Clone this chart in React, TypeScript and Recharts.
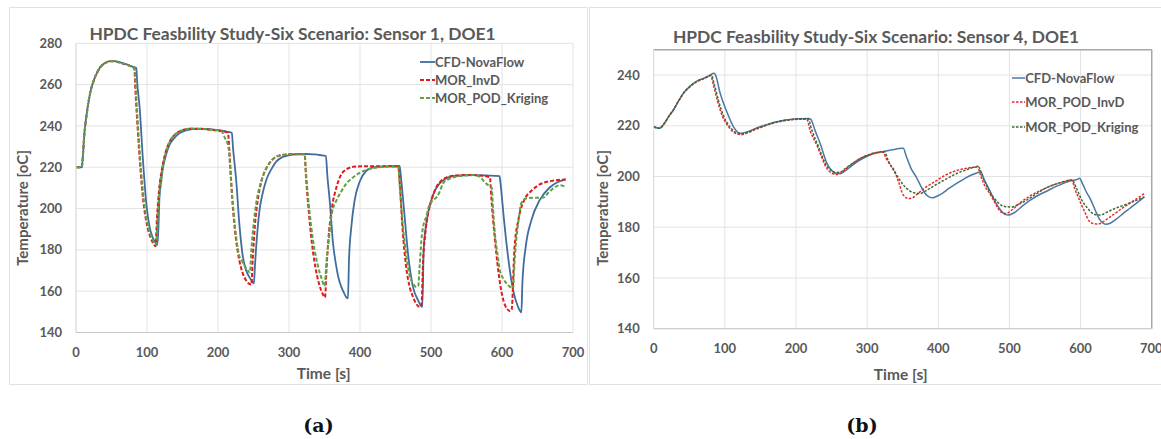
import { LineChart, Line, XAxis, YAxis, CartesianGrid, ReferenceLine } from 'recharts';

// time [s], temperature [oC]
const timeTicks = [0, 100, 200, 300, 400, 500, 600, 700];
const tempTicksA = [140, 160, 180, 200, 220, 240, 260, 280];
const tempTicksB = [140, 160, 180, 200, 220, 240];

// (a) Sensor 1
const cfdS1: [number, number][] = [
  [0, 220], [8, 220], [12, 237], [16, 248], [20, 256], [25, 262], [30, 266], [35, 268.8], [40, 270.3], [45, 271.2],
  [50, 271.5], [55, 271.4], [60, 271], [65, 270.5], [70, 270], [75, 269.3], [80, 268.6], [85, 268],
  [86, 262], [89.6, 249], [94.3, 223.5], [99, 202.5], [103.7, 191], [108, 186], [111, 184], [114.5, 182.4],
  [116, 190], [117.5, 205], [120, 213], [122, 218.6], [126, 225], [131.5, 230.7], [138, 234], [145.6, 236.4],
  [155, 237.8], [164, 238.5], [178, 238.6], [190, 238.4], [202, 238], [212, 237.3], [219.5, 236.7],
  [221, 230], [225.6, 213.8], [230, 192.8], [235, 176.7], [239.7, 170], [243, 167.5], [246.8, 165.4], [250.5, 163.8],
  [252, 172], [253.8, 181.5], [256, 191], [258.5, 199.3], [263, 207.5], [268, 213.8], [275, 219], [282, 222.7],
  [290, 224.8], [300.8, 225.9], [312, 226.3], [324, 226.4], [335, 226.2], [345, 225.8], [352, 225.4],
  [354, 216], [357.3, 204.1], [362, 183.2], [366.7, 171.8], [370, 166], [373.7, 162.1], [377, 159.5], [380.8, 157], [383, 156.5],
  [384.5, 175], [387.8, 191.2], [392.5, 204.1], [399.5, 213], [408.9, 218.3], [415, 219.5], [423, 220.2], [440, 220.5], [455.8, 220.6],
  [458, 214], [462.9, 196], [467.6, 178.3], [474.6, 162.1], [481.7, 155.7], [487.8, 152.4],
  [489.7, 180], [493.4, 192.8], [500.5, 204.1], [506, 209], [512.2, 212.2], [520, 214.3], [531, 215.7], [545, 216.1],
  [559, 216.2], [578, 216], [596.6, 215.7],
  [598, 212], [602.4, 196], [608.5, 176.7], [615.6, 160.6], [622.6, 152.4], [627.3, 149.7],
  [628.7, 163.8], [633.4, 181.5], [641.4, 194.4], [653.1, 204.1], [667.2, 210.2], [678, 212.7], [689.7, 214.1],
];
const invdS1: [number, number][] = [
  [0, 220], [8, 220], [12, 237], [16, 248], [20, 256], [25, 262], [30, 266], [35, 268.8], [40, 270.3], [45, 271],
  [50, 271.3], [55, 271.2], [60, 270.8], [65, 270.3], [70, 269.8], [75, 269.2], [80, 268.5], [82, 268],
  [84, 255], [87, 238], [91, 218], [95, 203], [100, 192], [105, 186], [109, 183], [112, 181.8],
  [114, 195], [117, 209], [121, 219], [126, 227], [132, 232.5], [140, 236], [150, 238], [160, 238.6], [175, 238.6],
  [190, 238.1], [205, 237.4], [214, 236.8],
  [216, 228], [220, 205], [225, 186], [230, 175], [235, 168.5], [240, 165], [244, 163.5], [247, 163.2],
  [249, 176], [252, 192], [256, 204], [261, 213], [268, 219.5], [276, 223.5], [285, 225.5], [300, 226.3], [315, 226.4], [322, 226.3],
  [324, 215], [328, 198], [332, 184], [337, 172], [342, 164], [347, 159], [350.7, 157],
  [353, 172], [355.4, 184.7], [360, 199.3], [367, 210.5], [376.4, 217.8], [390.5, 220.2], [410, 220.5], [430, 220.5], [454, 220.4],
  [456, 212], [460, 190], [465, 171.8], [470, 162], [474.6, 157.3], [479, 154], [484, 152.4], [486.5, 153],
  [488.9, 175], [492, 188], [496, 197.7], [501, 204.5], [507.7, 210.5], [514, 213.3], [521.8, 215.1], [535, 216],
  [550, 216.3], [570, 216], [583, 215.1],
  [585, 205], [590.1, 184.7], [597.2, 163.8], [604.2, 153.3], [611.3, 150.4], [613.6, 151],
  [617.4, 180], [623, 194.4], [632.5, 204.9], [641, 208.5], [651.2, 211.3], [670, 213.4], [689.7, 214.1],
];
const krigS1: [number, number][] = [
  [0, 220], [8, 220], [12, 237], [16, 248], [20, 256], [25, 262], [30, 266], [35, 268.8], [40, 270.3], [45, 271.1],
  [50, 271.4], [55, 271.3], [60, 270.9], [65, 270.4], [70, 269.9], [75, 269.2], [80, 268.5], [82.5, 268],
  [84.5, 256], [87.5, 239], [91.5, 219], [95.5, 204], [100.5, 193], [105.5, 187], [110, 183.5], [113, 182.5],
  [115, 196], [118, 210], [122, 220], [127, 227.5], [133, 233], [141, 236.3], [151, 238.1], [162, 238.7], [177, 238.6],
  [192, 238.1], [205, 237.5], [210, 234], [213, 232], [215, 229],
  [218, 215], [222, 198], [226, 185], [230, 177], [234, 174.5], [238, 172], [242, 170], [245, 169],
  [247, 180], [250, 192], [254, 203], [259, 211], [266, 218], [275, 223], [285, 225.5], [300, 226.2], [322, 226.3],
  [324, 217], [327, 205], [331, 192], [336, 180], [341, 172], [346, 166], [350, 162.5],
  [353, 175], [357, 188], [360, 197], [367, 204.1], [374, 208.5], [381, 212.2], [390, 215], [399.5, 217.3],
  [418, 219.5], [435, 220.2], [454, 220.2],
  [456, 211], [460, 193], [465, 178], [469, 169], [472, 165.4], [476, 163], [479, 162], [482, 162.5],
  [484, 172], [486.5, 184.7], [490, 193], [493.4, 196], [497, 201], [502.8, 204.1], [508, 205.5], [512, 208],
  [517, 212.2], [525, 214.3], [540.7, 215.7], [559.5, 216.2], [569, 215.4], [575, 213], [580.7, 211.3], [585.5, 210.2],
  [587, 202], [590, 188], [594, 177], [597, 170], [602, 166], [608.5, 163], [615.6, 161.3],
  [617, 170], [620, 184.7], [624, 196], [627, 202.5], [634.5, 205], [645, 205.2], [658, 205.3], [665, 207.5],
  [672, 209.7], [681.5, 211.3], [686, 211], [689.7, 210.2],
];

// (b) Sensor 4
const cfdS4: [number, number][] = [
  [0, 219.6], [8, 219], [15, 221], [22, 224], [27.6, 226.2], [35, 229.8], [41.7, 232.8], [50, 235.3], [55.8, 236.7],
  [62, 237.8], [69.9, 238.7], [78, 239.8], [84.9, 240.7], [87, 240],
  [93.4, 232.8], [102.8, 225.5], [112.2, 219.6], [121.5, 217], [131, 217.6], [140, 218.6], [149.7, 219.6], [160, 220.5],
  [168.5, 221.3], [180, 222], [192, 222.5], [205, 222.8], [218, 222.9], [221, 222.5],
  [227, 218], [234, 213], [243.5, 205.2], [250, 202.5], [257.6, 201.2], [262, 201.2], [267, 201.8], [275, 203.5],
  [285.8, 205.8], [297, 207.6], [309.3, 209.1], [323.4, 209.9], [335, 210.5], [345, 211], [350.8, 211.1],
  [355, 208], [362, 203], [368.9, 199.9], [375, 196.5], [381, 193.5], [387, 192], [392.2, 191.6], [398, 192.2],
  [405.2, 193.3], [415, 195.3], [425.8, 197.3], [436, 199], [446.5, 200.6], [455, 201.5], [459.6, 201.9],
  [465, 198.5], [472.3, 194.6], [480, 190], [487.8, 186.7], [493, 185.2], [498.3, 184.8], [503, 185.2], [508.6, 186.1],
  [518, 188.3], [529.3, 190.7], [542, 192.8], [555.2, 194.6], [565, 196], [575.9, 197.3], [586, 198.3], [596.6, 199], [598.6, 199.3],
  [603, 197], [608, 194], [614.5, 190.7], [621, 186.5], [627.6, 182.8], [635.3, 181.2], [641, 181.5], [648.3, 182.8],
  [658, 185], [669, 187.4], [680, 189.8], [689.7, 192],
];
const invdS4: [number, number][] = [
  [0, 219.6], [8, 219], [15, 221], [22, 224], [27.6, 226.2], [35, 229.8], [41.7, 232.8], [50, 235.2], [55.8, 236.5],
  [62, 237.6], [69.9, 238.5], [76, 239.3], [80, 239.8],
  [84, 236], [90, 229.5], [97, 223.5], [103, 220.5], [110, 218], [117, 216.8], [123, 216.5], [130, 217], [140, 218.2],
  [150, 219.3], [165, 220.8], [180, 221.8], [195, 222.4], [210, 222.6], [215, 222.6],
  [220, 218], [230.4, 211.7], [237, 207], [242, 203.8], [247, 202], [251.5, 201.2], [256, 200.8], [262, 201.2],
  [270, 203], [280, 205.2], [292, 207.3], [305, 208.7], [315, 209.4], [322.4, 209.6],
  [327, 207], [333, 204.5], [337.9, 202.5], [344, 198], [350.8, 192.7], [358.6, 191.3], [364, 191.6], [368.9, 192.7],
  [380, 195.3], [394.8, 197.9], [408, 200.2], [420.7, 201.9], [435, 203], [451.7, 203.8], [455, 204],
  [460, 200], [466, 196], [472.3, 193.3], [480, 189.5], [487.8, 186.1], [495.6, 185.4], [502, 186.5], [513.8, 189.3],
  [528, 192.2], [544.8, 194.6], [560, 196.5], [575, 197.8], [586.3, 198.6], [588, 198.5],
  [592, 195], [596.6, 192], [601, 189], [606.9, 185.4], [612, 182.5], [617.3, 181.5], [622, 181.3], [627.6, 181.5],
  [636, 183], [648.3, 185.4], [660, 187.8], [675, 190.5], [689.7, 193.3],
];
const krigS4: [number, number][] = [
  [0, 219.6], [8, 219], [15, 221], [22, 224], [27.6, 226.2], [35, 229.8], [41.7, 232.8], [50, 235.3], [55.8, 236.6],
  [62, 237.7], [69.9, 238.6], [76, 239.4], [81, 240],
  [85, 236.5], [91, 230], [98, 224], [104, 220.8], [111, 218.3], [118, 217.2], [125, 217], [132, 217.4], [141, 218.5],
  [151, 219.6], [166, 221], [181, 222], [196, 222.6], [211, 222.8], [217, 222.8],
  [222, 218.5], [232, 211.5], [239, 206.5], [245, 203.5], [250, 202.3], [256, 201.6], [262, 201.7], [270, 203.3],
  [281, 205.5], [293, 207.5], [306, 209], [317, 209.7], [324, 209.9],
  [330, 206], [337, 202.5], [343, 199.9], [350, 197], [358.6, 194.6], [366, 193.6], [374, 193.3], [386, 195],
  [400, 197.3], [413, 199.3], [425.8, 201.2], [440, 202.7], [454.4, 203.8], [457, 203.7],
  [462, 200], [467, 197], [472, 194], [480, 191], [487.8, 188.8], [495, 188.1], [503.5, 188], [512, 188.9],
  [524.2, 190.7], [537, 193], [550, 195.3], [565, 197], [578, 198.1], [586.3, 198.6], [589, 198.4],
  [594, 195.5], [601.8, 190.7], [609, 187.8], [617.3, 185.4], [622, 184.9], [627.6, 184.8], [636, 185.8],
  [648.3, 187.4], [662, 188.8], [676, 190.3], [689.7, 192],
];

const seriesA = [
  { name: 'CFD-NovaFlow', pts: cfdS1, color: '#3f6e9e', width: 1.8, dash: undefined },
  { name: 'MOR_InvD', pts: invdS1, color: '#e01b1b', width: 2, dash: '4 2' },
  { name: 'MOR_POD_Kriging', pts: krigS1, color: '#62a044', width: 2, dash: '4 2' },
];
const seriesB = [
  { name: 'CFD-NovaFlow', pts: cfdS4, color: '#4a78a6', width: 1.5, dash: undefined },
  { name: 'MOR_POD_InvD', pts: invdS4, color: '#e8282a', width: 1.5, dash: '2.5 1.5' },
  { name: 'MOR_POD_Kriging', pts: krigS4, color: '#3f6a34', width: 1.5, dash: '2.5 1.5' },
];

const FONT = 'Lato, "Open Sans", sans-serif';
const TXT = '#595959';

const toRows = (pts: [number, number][]) => pts.map(([t, v]) => ({ t, v }));

function LegendBox({ items, left, top, gap, lineW }: any) {
  return (
    <div style={{ position: 'absolute', left, top, fontFamily: FONT, fontWeight: 700, fontSize: 13, color: TXT }}>
      {items.map((s: any, i: number) => (
        <div key={s.name} style={{ position: 'absolute', top: i * gap, left: 0, height: 16, display: 'flex', alignItems: 'center', whiteSpace: 'nowrap' }}>
          <svg width={lineW} height={4} style={{ display: 'block' }}>
            <line x1={0} y1={2} x2={lineW} y2={2} stroke={s.color} strokeWidth={s.width} strokeDasharray={s.dash} />
          </svg>
          <span>{s.name}</span>
        </div>
      ))}
    </div>
  );
}

function Panel({ series, ticksY, domainY, left, width, marginTop, yAxisW, xAxisH, marginRight, framed }: any) {
  return (
    <div style={{ position: 'absolute', left, top: 0 }}>
      <LineChart width={width} height={384} margin={{ top: marginTop, right: marginRight, left: 0, bottom: 0 }}>
        <CartesianGrid stroke="#e3e3e3" strokeWidth={1} />
        <XAxis
          type="number"
          dataKey="t"
          domain={[0, 700]}
          ticks={timeTicks}
          allowDuplicatedCategory={false}
          height={xAxisH}
          stroke="#c8c8c8"
          tickLine={false}
          tickSize={8}
          tickMargin={7}
          tick={{ fill: TXT, fontSize: 13, fontFamily: FONT, fontWeight: 700 }}
        />
        <YAxis
          type="number"
          domain={domainY}
          ticks={ticksY}
          width={yAxisW}
          stroke="#dcdcdc"
          tickLine={false}
          tickSize={8}
          tickMargin={6}
          tick={{ fill: TXT, fontSize: 13, fontFamily: FONT, fontWeight: 700 }}
        />
        {framed && <ReferenceLine y={domainY[1]} stroke="#a8a8a8" strokeWidth={1.5} />}
        {framed && <ReferenceLine x={700} stroke="#a8a8a8" strokeWidth={1.5} />}
        {series.map((s: any) => (
          <Line
            key={s.name}
            data={toRows(s.pts)}
            dataKey="v"
            name={s.name}
            type="monotone"
            stroke={s.color}
            strokeWidth={s.width}
            strokeDasharray={s.dash}
            dot={false}
            activeDot={false}
            isAnimationActive={false}
          />
        ))}
      </LineChart>
    </div>
  );
}

const label = (text: string, x: number, y: number, size: number, extra: any = {}) => (
  <div
    style={{
      position: 'absolute', left: x, top: y, transform: 'translate(-50%, -50%)', whiteSpace: 'nowrap',
      fontFamily: FONT, fontWeight: 700, fontSize: size, color: TXT, ...extra,
    }}
  >
    {text}
  </div>
);

export default function App() {
  return (
    <div style={{ position: 'absolute', left: 0, top: 0, width: 1161, height: 439, background: '#fff', overflow: 'hidden' }}>
      <div style={{ position: 'absolute', left: 9, top: 7, width: 577, height: 376, border: '1px solid #e2e2e2' }} />
      <div style={{ position: 'absolute', left: 589, top: 7, width: 600, height: 376, border: '1px solid #e2e2e2' }} />

      <Panel series={seriesA} ticksY={tempTicksA} domainY={[140, 280]} left={0} width={587}
        marginTop={43.3} yAxisW={76} xAxisH={51.5} marginRight={14} framed={false} />
      <Panel series={seriesB} ticksY={tempTicksB} domainY={[140, 250]} left={589} width={572}
        marginTop={49.7} yAxisW={64.7} xAxisH={55.3} marginRight={9.3} framed />

      {label('HPDC Feasbility Study-Six Scenario: Sensor 1, DOE1', 292.5, 33, 17.4)}
      {label('HPDC Feasbility Study-Six Scenario: Sensor 4, DOE1', 876, 36, 17.4)}
      {label('Temperature [oC]', 22, 208, 15, { transform: 'translate(-50%, -50%) rotate(-90deg)' })}
      {label('Temperature [oC]', 601.5, 208, 15, { transform: 'translate(-50%, -50%) rotate(-90deg)' })}
      {label('Time [s]', 323.6, 372.7, 15.5)}
      {label('Time [s]', 900.7, 374, 15.5)}

      <LegendBox items={seriesA} left={420} top={54} gap={18.2} lineW={15} />
      <LegendBox items={seriesB} left={1011.7} top={69.7} gap={24.8} lineW={13.5} />

      {label('(a)', 318.5, 425, 19, { fontFamily: '"DejaVu Serif", serif', color: '#111' })}
      {label('(b)', 862, 425, 19, { fontFamily: '"DejaVu Serif", serif', color: '#111' })}
    </div>
  );
}
